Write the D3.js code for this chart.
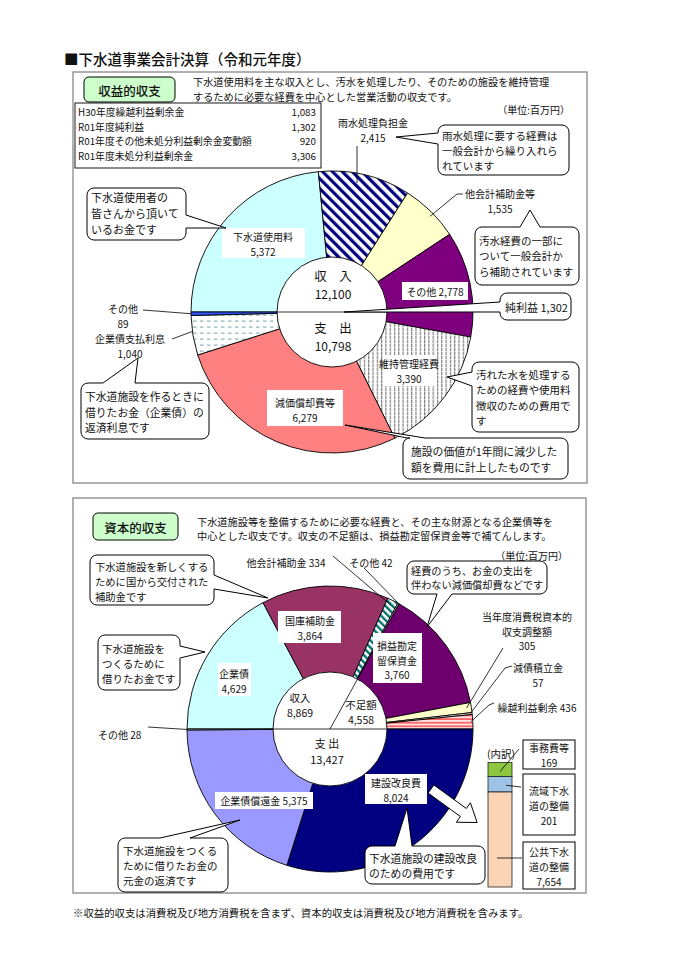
<!DOCTYPE html>
<html>
<head>
<meta charset="utf-8">
<script src="https://cdnjs.cloudflare.com/ajax/libs/d3/7.8.5/d3.min.js"></script>
<style>
  body { margin: 0; background: #fff; }
  svg text { font-family: "Noto Sans CJK JP", sans-serif; fill: #111; }
</style>
</head>
<body>
<div id="chart"></div>
<script>
// ---- data (百万円) ----
const summaryLabels = ["H30年度繰越利益剰余金", "R01年度純利益", "R01年度その他未処分利益剰余金変動額", "R01年度未処分利益剰余金"];
const summaryValues = [1083, 1302, 920, 3306];

const opCategories = ["下水道使用料", "雨水処理負担金", "他会計補助金等", "その他", "維持管理経費", "減価償却費等", "企業債支払利息", "その他"];
const opValues = [5372, 2415, 1535, 2778, 3390, 6279, 1040, 89];
const opRevenue = 12100, opExpense = 10798, opNetProfit = 1302;

const capCategories = ["企業債", "国庫補助金", "他会計補助金", "その他", "損益勘定留保資金", "当年度消費税資本的収支調整額", "減債積立金", "繰越利益剰余", "建設改良費", "企業債償還金", "その他"];
const capValues = [4629, 3864, 334, 42, 3760, 305, 57, 436, 8024, 5375, 28];
const capRevenue = 8869, capShortfall = 4558, capExpense = 13427;

const detailCategories = ["事務費等", "流域下水道の整備", "公共下水道の整備"];
const detailValues = [169, 201, 7654];

// ---- styles ----
const opFills = ["#CCFFFF", "url(#hatchNavy)", "#FFFFCC", "#7F007F", "url(#vlines)", "#FF8080", "url(#dashes)", "#3355FF"];
const capFills = ["#CCFFFF", "#993366", "url(#hatchTeal)", "#fff", "#6E006E", "#FFFFCC", "#fff", "url(#redStripes)", "#000080", "#9999FF", "#fff"];
const detailFills = ["#8DC63F", "#9DC3E6", "#FBD3B5"];

const fmt = d3.format(",");
const width = 690, height = 975;

const svg = d3.select("#chart").append("svg")
    .attr("width", width)
    .attr("height", height);

const defs = svg.append("defs");
function stripes(id, size, bar, color, bg, rotate) {
    const p = defs.append("pattern").attr("id", id)
        .attr("width", size).attr("height", size)
        .attr("patternUnits", "userSpaceOnUse")
        .attr("patternTransform", `rotate(${rotate})`);
    p.append("rect").attr("width", size).attr("height", size).attr("fill", bg);
    p.append("rect").attr("width", bar).attr("height", size).attr("fill", color);
}
stripes("hatchNavy", 7, 3.2, "#000080", "#fff", -45);
stripes("hatchTeal", 5, 2.4, "#007070", "#fff", -45);
stripes("redStripes", 3.6, 1.8, "#FF6363", "#FFE6E6", 90);

const vl = defs.append("pattern").attr("id", "vlines")
    .attr("width", 4.3).attr("height", 4).attr("patternUnits", "userSpaceOnUse");
vl.append("rect").attr("width", 4.3).attr("height", 4).attr("fill", "#fff");
vl.append("rect").attr("x", 2).attr("width", 0.8).attr("height", 3.5).attr("fill", "#444");

const ds = defs.append("pattern").attr("id", "dashes")
    .attr("width", 7).attr("height", 6).attr("patternUnits", "userSpaceOnUse");
ds.append("rect").attr("width", 7).attr("height", 6).attr("fill", "#fff");
ds.append("rect").attr("x", 1).attr("y", 2.5).attr("width", 3.5).attr("height", 1.3).attr("fill", "#8FBCBC");

// ---- helpers ----
function text(x, y, lines, size, anchor = "middle", dy = size * 1.46, weight = "normal") {
    const t = svg.append("text")
        .attr("x", x).attr("y", y)
        .attr("font-size", size)
        .attr("font-weight", weight)
        .attr("text-anchor", anchor)
        .attr("dominant-baseline", "central");
    [].concat(lines).forEach((s, i) => t.append("tspan").attr("x", x).attr("y", y + i * dy).text(s));
    return t;
}

function whiteBox(x, y, w, h) {
    svg.append("rect").attr("x", x).attr("y", y).attr("width", w).attr("height", h).attr("fill", "#fff");
}

function leader(points) {
    svg.append("path")
        .attr("d", d3.line()(points))
        .attr("fill", "none")
        .attr("stroke", "#000")
        .attr("stroke-width", 0.8);
}

function calloutPath(x, y, w, h, r, side, b1, b2, tx, ty) {
    const p = d3.path();
    p.moveTo(x + r, y);
    if (side === "top") { p.lineTo(x + b1, y); p.lineTo(tx, ty); p.lineTo(x + b2, y); }
    p.lineTo(x + w - r, y);
    p.arcTo(x + w, y, x + w, y + r, r);
    if (side === "right") { p.lineTo(x + w, y + b1); p.lineTo(tx, ty); p.lineTo(x + w, y + b2); }
    p.lineTo(x + w, y + h - r);
    p.arcTo(x + w, y + h, x + w - r, y + h, r);
    if (side === "bottom") { p.lineTo(x + b2, y + h); p.lineTo(tx, ty); p.lineTo(x + b1, y + h); }
    p.lineTo(x + r, y + h);
    p.arcTo(x, y + h, x, y + h - r, r);
    if (side === "left") { p.lineTo(x, y + b2); p.lineTo(tx, ty); p.lineTo(x, y + b1); }
    p.lineTo(x, y + r);
    p.arcTo(x, y, x + r, y, r);
    p.closePath();
    return p.toString();
}

function callout(c) {
    svg.append("path")
        .attr("d", calloutPath(c.x, c.y, c.w, c.h, 7, c.side, c.b1, c.b2, c.tip[0], c.tip[1]))
        .attr("fill", "#fff")
        .attr("stroke", "#000")
        .attr("stroke-width", 1);
    text(c.tx, c.ty, c.lines, c.fs, "start", c.dy);
}

function drawPie(values, fills, cx, cy, r, r0) {
    const pie = d3.pie().sort(null).value(d => d)
        .startAngle(-Math.PI / 2).endAngle(3 * Math.PI / 2);
    const arcs = pie(values);
    const arc = d3.arc().innerRadius(0).outerRadius(r);
    const g = svg.append("g").attr("transform", `translate(${cx},${cy})`);
    g.selectAll("path")
        .data(arcs)
        .enter()
        .append("path")
        .attr("d", arc)
        .attr("fill", (d, i) => fills[i])
        .attr("stroke", "#000")
        .attr("stroke-width", 0.9);
    g.append("circle").attr("r", r0).attr("fill", "#fff").attr("stroke", "#000").attr("stroke-width", 0.9);
    // point on a slice, frac along its angle
    arcs.at = (i, rad, frac = 0.5) => {
        const a = arcs[i].startAngle + (arcs[i].endAngle - arcs[i].startAngle) * frac;
        return [cx + rad * Math.sin(a), cy - rad * Math.cos(a)];
    };
    return arcs;
}

function frame(x, y, w, h) {
    svg.append("rect").attr("x", x).attr("y", y).attr("width", w).attr("height", h)
        .attr("fill", "none").attr("stroke", "#888").attr("stroke-width", 1.3);
}

function greenTag(x, y, w, h, s) {
    svg.append("rect").attr("x", x).attr("y", y).attr("width", w).attr("height", h).attr("rx", 5)
        .attr("fill", "#CCFFCC").attr("stroke", "#000").attr("stroke-width", 1);
    text(x + w / 2, y + h / 2, s, 12.5, "middle", 0, 500);
}

// ---- title ----
text(64, 58, "■下水道事業会計決算（令和元年度）", 14.5, "start", 0, 500);

// ================= 収益的収支 =================
frame(73, 72, 514, 411);
greenTag(84, 77, 91, 25, "収益的収支");
text(193, 81, ["下水道使用料を主な収入とし、汚水を処理したり、そのための施設を維持管理",
               "するために必要な経費を中心とした営業活動の収支です。"], 10.2, "start", 14.9);
text(570, 109, "（単位:百万円）", 10, "end");

svg.append("rect").attr("x", 75).attr("y", 103).attr("width", 246).attr("height", 65)
    .attr("fill", "#fff").attr("stroke", "#000").attr("stroke-width", 0.9);
summaryLabels.forEach((s, i) => {
    text(78, 112 + i * 14.5, s, 9.8, "start");
    text(316, 112 + i * 14.5, fmt(summaryValues[i]), 9.8, "end");
});

const opCx = 332, opCy = 312;
const opArcs = drawPie(opValues, opFills, opCx, opCy, 141, 55);
leader([[opCx - 55, opCy], [opCx + 55, opCy]]);

// slice labels
whiteBox(222, 228, 83, 30);
text(263, 236, [opCategories[0], fmt(opValues[0])], 10, "middle", 14.6);
text(373, 122, [opCategories[1], fmt(opValues[1])], 10, "middle", 14.6);
leader([[357, 146], [357, 183]]);
text(500, 193, [opCategories[2], fmt(opValues[2])], 10, "middle", 15);
leader([[463, 194], [457, 194], opArcs.at(2, 137, 0.55)]);
whiteBox(402, 282, 66, 18);
text(435, 291, `${opCategories[3]} ${fmt(opValues[3])}`, 10);
whiteBox(383, 355, 52, 31);
text(409, 363, [opCategories[4], fmt(opValues[4])], 10, "middle", 14.6);
whiteBox(267, 390, 76, 36);
text(305, 402, [opCategories[5], fmt(opValues[5])], 10, "middle", 15);
text(130, 338, [opCategories[6], fmt(opValues[6])], 10, "middle", 15);
leader([[172, 339], opArcs.at(6, 141, 0.6)]);
text(123, 308, [opCategories[7], fmt(opValues[7])], 10, "middle", 14.6);
leader([[143, 310], opArcs.at(7, 141, 0.5)]);

// centre
text(opCx + 1, 275, "収　入", 12.5);
text(opCx + 1, 293, fmt(opRevenue), 12);
text(opCx + 1, 327, "支　出", 12.5);
text(opCx + 1, 345, fmt(opExpense), 12);

// callouts
callout({ x: 87, y: 188, w: 99, h: 52, side: "right", b1: 27, b2: 40, tip: [226, 228],
    lines: ["下水道使用者の", "皆さんから頂いて", "いるお金です"], tx: 91, ty: 197, dy: 16, fs: 11 });
callout({ x: 438, y: 125, w: 131, h: 50, side: "left", b1: 8, b2: 19, tip: [396, 137],
    lines: ["雨水処理に要する経費は", "一般会計から繰り入れら", "れています"], tx: 442, ty: 134.5, dy: 15.3, fs: 10.5 });
callout({ x: 475, y: 227, w: 104, h: 58, side: "top", b1: 45, b2: 65, tip: [530, 210],
    lines: ["汚水経費の一部に", "ついて一般会計か", "ら補助されています"], tx: 479, ty: 240, dy: 15.3, fs: 10.5 });
callout({ x: 500, y: 293, w: 71, h: 27, side: "left", b1: 9, b2: 19, tip: [344, 312],
    lines: [`純利益 ${fmt(opNetProfit)}`], tx: 505, ty: 307, dy: 0, fs: 11 });
callout({ x: 472, y: 362, w: 107, h: 70, side: "left", b1: 10, b2: 24, tip: [447, 377],
    lines: ["汚れた水を処理する", "ための経費や使用料", "徴収のための費用で", "す"], tx: 476, ty: 374, dy: 15.3, fs: 10.5 });
callout({ x: 403, y: 438, w: 165, h: 41, side: "top", b1: 4, b2: 22, tip: [345, 425],
    lines: ["施設の価値が1年間に減少した", "額を費用に計上したものです"], tx: 411, ty: 451, dy: 15.7, fs: 10.8 });
callout({ x: 81, y: 383, w: 128, h: 56, side: "top", b1: 22, b2: 54, tip: [138, 358],
    lines: ["下水道施設を作るときに", "借りたお金（企業債）の", "返済利息です"], tx: 85, ty: 396, dy: 15.7, fs: 10.8 });

// ================= 資本的収支 =================
frame(73, 498, 513, 395);
greenTag(93, 513, 85, 27, "資本的収支");
text(197, 520.5, ["下水道施設等を整備するために必要な経費と、その主な財源となる企業債等を",
                  "中心とした収支です。収支の不足額は、損益勘定留保資金等で補てんします。"], 10.2, "start", 14.9);
text(568, 555, "（単位:百万円）", 10, "end");

const capCx = 330, capCy = 729;
const capArcs = drawPie(capValues, capFills, capCx, capCy, 143, 57);
leader([[capCx - 57, capCy], [capCx + 57, capCy]]);
leader([[capCx, capCy], capArcs.at(4, 57, 0)]);

whiteBox(218, 663, 33, 33);
text(234, 673, [capCategories[0], fmt(capValues[0])], 10, "middle", 14.6);
whiteBox(278, 611, 63, 32);
text(310, 620, [capCategories[1], fmt(capValues[1])], 10, "middle", 14.6);
text(286, 562, `${capCategories[2]} ${capValues[2]}`, 10);
leader([[333, 556], capArcs.at(2, 138, 0.5)]);
text(371, 562, `${capCategories[3]} ${capValues[3]}`, 10);
leader([[364, 568], capArcs.at(3, 143, 0.5)]);
whiteBox(373, 633, 49, 50);
text(397, 645, ["損益勘定", "留保資金", fmt(capValues[4])], 10, "middle", 14.6);
text(527, 616, ["当年度消費税資本的", "収支調整額", capValues[5]], 10, "middle", 14.6);
leader([[503, 648], capArcs.at(5, 138, 0.5)]);
text(538, 667, [capCategories[6], capValues[6]], 10, "middle", 14.6);
leader([[512, 666], [505, 668], capArcs.at(6, 141, 0.5)]);
text(537, 707, `${capCategories[7]} ${capValues[7]}`, 10);
leader([[494, 703], [489, 705], capArcs.at(7, 141, 0.5)]);
whiteBox(365, 774, 62, 30);
text(396, 782, [capCategories[8], fmt(capValues[8])], 10, "middle", 14.6);
whiteBox(215, 792, 98, 17);
text(264, 800, `${capCategories[9]} ${fmt(capValues[9])}`, 10);
text(98, 734, `${capCategories[10]} ${capValues[10]}`, 10, "start");
leader([[148, 727], capArcs.at(10, 143, 0.5)]);

// centre
text(300, 697, ["収入", fmt(capRevenue)], 10.5, "middle", 15.3);
text(361, 704, ["不足額", fmt(capShortfall)], 10.5, "middle", 15.3);
text(327, 743, ["支 出", fmt(capExpense)], 11, "middle", 16);

// callouts
callout({ x: 90, y: 555, w: 124, h: 50, side: "right", b1: 20, b2: 34, tip: [268, 598],
    lines: ["下水道施設を新しくする", "ために国から交付された", "補助金です"], tx: 95, ty: 566, dy: 15, fs: 10.3 });
callout({ x: 407, y: 561, w: 140, h: 33, side: "bottom", b1: 30, b2: 45, tip: [427, 627],
    lines: ["経費のうち、お金の支出を", "伴わない減価償却費などです"], tx: 411, ty: 569.5, dy: 14.9, fs: 10.2 });
callout({ x: 98, y: 635, w: 82, h: 55, side: "right", b1: 11, b2: 23, tip: [205, 652],
    lines: ["下水道施設を", "つくるために", "借りたお金です"], tx: 102, ty: 647.5, dy: 15.3, fs: 10.5 });
callout({ x: 118, y: 838, w: 110, h: 54, side: "top", b1: 42, b2: 72, tip: [240, 820],
    lines: ["下水道施設をつくる", "ために借りたお金の", "元金の返済です"], tx: 123, ty: 849.5, dy: 15.3, fs: 10.5 });
callout({ x: 365, y: 846, w: 120, h: 38, side: "top", b1: 30, b2: 47, tip: [407, 808],
    lines: ["下水道施設の建設改良", "のための費用です"], tx: 369, ty: 857.5, dy: 15.7, fs: 10.8 });

// block arrow toward the breakdown
svg.append("path")
    .attr("d", "M0,-5 L40,-5 L40,-12 L57,0 L40,12 L40,5 L0,5 Z")
    .attr("transform", "translate(431,789) rotate(36)")
    .attr("fill", "#fff").attr("stroke", "#000").attr("stroke-width", 0.9);

// ---- 内訳 stacked bar ----
const barX = 488, barW = 24, barBottom = 887;
const hScale = d3.scaleSqrt().domain([0, d3.max(detailValues)]).range([0, 95]);
let acc = barBottom;
const seg = detailValues.map(v => ({ v })).reverse().map(d => {
    d.y1 = acc; acc -= hScale(d.v); d.y0 = acc; return d;
}).reverse();
svg.selectAll(".seg")
    .data(seg)
    .enter()
    .append("rect")
    .attr("class", "seg")
    .attr("x", barX).attr("width", barW)
    .attr("y", d => d.y0)
    .attr("height", d => d.y1 - d.y0)
    .attr("fill", (d, i) => detailFills[i])
    .attr("stroke", "#222").attr("stroke-width", 0.8);
text(501, 753, "(内訳)", 10.5);

const detailBoxes = [
    { y: 740, h: 29, lines: ["事務費等"] },
    { y: 774, h: 61, lines: ["流域下水", "道の整備"] },
    { y: 842, h: 47, lines: ["公共下水", "道の整備"] }
];
detailBoxes.forEach((b, i) => {
    svg.append("rect").attr("x", 523).attr("y", b.y).attr("width", 52).attr("height", b.h)
        .attr("fill", "#fff").attr("stroke", "#000").attr("stroke-width", 1);
    const ls = b.lines.concat(fmt(detailValues[i]));
    const y0 = b.y + b.h / 2 - (ls.length - 1) * 7.5;
    text(549, y0, ls, 10, "middle", 15);
});
leader([[519, 749], [barX + 12, (seg[0].y0 + seg[0].y1) / 2 + 2]]);
leader([[521, 787], [barX + 18, (seg[1].y0 + seg[1].y1) / 2 + 1]]);
leader([[522, 858], [barX + 9, 858]]);

// ---- footnote ----
text(73, 912, "※収益的収支は消費税及び地方消費税を含まず、資本的収支は消費税及び地方消費税を含みます。", 10.4, "start");
</script>
</body>
</html>
